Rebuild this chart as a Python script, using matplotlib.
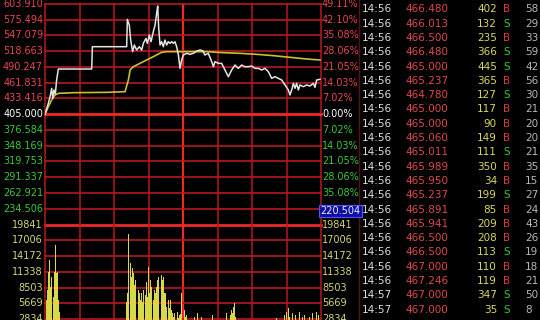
import matplotlib
matplotlib.use('Agg')
import matplotlib.pyplot as plt
import matplotlib.transforms as mtransforms
from matplotlib.lines import Line2D

# intraday price line (minutes since open, price)
price_min = [0, 2.9, 4.4, 5.8, 6.7, 7.8, 9.0, 10.1, 11.6, 40.6, 41.2, 71.0, 71.6, 73.3, 74.5,
             76.2, 77.7, 79.7, 82.0, 84.1, 85.5, 87.8, 89.0, 90.7, 92.2, 94.2, 95.7, 97.1, 98.0,
             98.8, 100.0, 101.4, 102.9, 104.3, 105.8, 107.2, 108.7, 110.1, 111.6, 113.0, 114.5,
             116.0, 117.4, 118.8, 120.3, 123.2, 126.1, 129.0, 131.9, 134.8, 137.1, 139.1, 142.0,
             145.0, 146.4, 147.8, 150.7, 153.6, 156.5, 159.4, 162.3, 165.2, 168.1, 171.0, 173.9,
             176.8, 179.7, 182.6, 185.5, 188.4, 191.3, 194.2, 197.1, 200.0, 202.9, 205.8, 208.7,
             211.6, 213.0, 214.5, 216.0, 217.4, 218.8, 220.3, 221.7, 224.6, 227.5, 230.4, 233.3,
             234.8, 236.2, 239.1]
price_val = [405.0, 424.7, 436.7, 451.8, 433.7, 448.8, 441.5, 466.8, 486.6, 486.6, 526.9, 526.9,
             576.2, 566.0, 538.9, 517.9, 529.9, 520.9, 526.9, 520.9, 532.9, 541.9, 532.9, 548.0,
             535.9, 554.0, 566.0, 587.1, 600.3, 563.0, 529.9, 535.9, 526.9, 538.9, 529.9, 535.9,
             532.9, 535.9, 532.9, 535.9, 526.9, 511.9, 487.8, 502.9, 511.9, 514.9, 513.1, 514.9,
             519.1, 520.9, 519.7, 511.9, 514.9, 499.9, 490.8, 499.9, 496.8, 496.8, 484.8, 472.8,
             484.8, 493.8, 487.8, 493.8, 490.8, 490.8, 492.0, 487.8, 487.8, 484.8, 487.8, 481.8,
             469.8, 472.8, 469.8, 466.8, 457.8, 448.8, 439.7, 448.8, 460.8, 451.8, 460.8, 448.8,
             457.8, 454.8, 457.8, 456.0, 460.8, 453.6, 466.8, 468.0]

# average price line
avg_min = [0, 2.9, 5.8, 8.7, 11.6, 24.6, 53.6, 69.6, 71.0, 72.5, 74.0, 76.8, 79.7, 82.6, 88.4,
           94.2, 98.6, 101.4, 105.8, 111.6, 140.6, 155.1, 169.6, 184.1, 198.6, 213.0, 227.5, 239.1]
avg_val = [405.0, 418.7, 430.7, 439.7, 442.7, 443.9, 444.5, 445.7, 456.0, 466.8, 484.8, 490.8,
           493.8, 496.8, 502.9, 508.9, 513.7, 516.7, 517.9, 517.9, 517.9, 516.1, 514.9, 513.1,
           510.7, 507.7, 504.7, 502.9]

# volume bars (minute, volume)
vol_min = list(range(0, 14)) + list(range(71, 124)) + [130, 133, 136, 146, 158, 160, 161, 162,
           163, 164, 165, 166, 201, 208, 210, 212, 213, 215, 218, 221, 224, 226, 230, 233, 236, 238]
vol_val = [7150, 6250, 8050, 11350, 13450, 8650, 10450, 6850, 11350, 16150, 11050, 11350, 6250, 4150,
           5950, 7450, 18100, 12850, 10450, 11950, 11050, 8950, 9850, 8650, 8050, 7450, 6250, 7450,
           5950, 8050, 7150, 9550, 6850, 12250, 7450, 9850, 8650, 6250, 8050, 7450, 8650, 9850,
           10450, 11050, 10750, 9850, 10450, 7450, 7450, 5050, 6250, 4750, 6250, 4450, 3850, 3250,
           3850, 2650, 4150, 3000, 3550, 3700, 7450, 6250, 4450, 3250, 3550,
           3250, 3850, 3250, 3550, 3850, 4750, 3550, 4450, 3850, 5050, 5650, 3250,
           3000, 3550, 4150, 4750, 3250, 3850, 3550, 4150, 3250, 3550, 3250, 3850, 4150, 3550]

price_ticks = ['603.910', '575.494', '547.079', '518.663', '490.247', '461.831', '433.416',
               '405.000', '376.584', '348.169', '319.753', '291.337', '262.921', '234.506']
pct_ticks = ['49.11%', '42.10%', '35.08%', '28.06%', '21.05%', '14.03%', '7.02%',
             '0.00%', '7.02%', '14.03%', '21.05%', '28.06%', '35.08%']
vol_ticks = ['19841', '17006', '14172', '11338', '8503', '5669', '2834']
vol_levels = [19841, 17006, 14172, 11338, 8503, 5669, 2834]
cursor_label = '220.504'

# tick-by-tick list
trade_time = ['14:56'] * 20 + ['14:57'] * 2
trade_price = ['466.480', '466.013', '466.500', '466.480', '465.000', '465.237', '464.780',
               '465.000', '465.000', '465.060', '465.011', '465.989', '465.950', '465.237',
               '465.891', '465.941', '466.500', '466.500', '467.000', '467.246', '467.000', '467.000']
trade_vol = [402, 132, 235, 366, 445, 365, 127, 117, 90, 149, 111, 350, 34, 199, 85, 209, 208,
             113, 110, 119, 347, 35]
trade_side = ['B', 'S', 'B', 'S', 'S', 'B', 'S', 'B', 'B', 'B', 'S', 'B', 'B', 'S', 'B', 'B', 'B',
              'S', 'B', 'B', 'S', 'S']
trade_num = [58, 29, 33, 59, 42, 56, 30, 21, 20, 20, 21, 35, 15, 27, 24, 43, 26, 19, 18, 21, 50, 8]

W, H = 540, 320
GRID = '#b81820'
BRIGHT = '#f02828'
RED = '#e8484c'
GREEN = '#3cc83c'
YEL = '#d4d47c'

fig = plt.figure(figsize=(5.4, 3.2), dpi=100, facecolor='black')

ax_p = fig.add_axes([45 / W, 1 - 224.5 / H, 276 / W, 220.5 / H])
ax_v = fig.add_axes([45 / W, 0, 276 / W, 95.5 / H])
base = 405.0
step = float(price_ticks[0]) - float(price_ticks[1])
ax_p.set_ylim(base - 7 * step, float(price_ticks[0]))
ax_v.set_ylim(vol_levels[0] - 6.063 * (vol_levels[0] / 7), vol_levels[0])
for ax in (ax_p, ax_v):
    ax.set_xlim(0, 240)
    ax.set_facecolor('black')
    ax.axis('off')
    for t in range(0, 241, 30):
        ax.axvline(t, color=BRIGHT if t == 120 else GRID, lw=1.6 if t == 120 else 1.1,
                   clip_on=False, zorder=1)

for lab in price_ticks:
    v = float(lab)
    ax_p.axhline(v, color=BRIGHT if v == base else GRID, lw=2 if v == base else 1.2,
                 clip_on=False, zorder=1)
ax_p.axhline(base - 7 * step, color=BRIGHT, lw=2, clip_on=False, zorder=1)
for v in vol_levels[1:]:
    ax_v.axhline(v, color=GRID, lw=1.2, clip_on=False, zorder=1)

ax_p.plot(avg_min, avg_val, color='#c8c030', lw=1.2, zorder=3)
ax_p.plot(price_min, price_val, color='#e4e4e4', lw=1.1, zorder=4)
ax_v.bar(vol_min, vol_val, width=0.85, color='#d8d848', lw=0, zorder=3)

# axis labels
tl = mtransforms.blended_transform_factory(fig.transFigure, ax_p.transData)
for i, lab in enumerate(price_ticks):
    c = RED if i < 7 else ('white' if i == 7 else GREEN)
    fig.text(43 / W, float(lab), lab, transform=tl, ha='right', va='center', color=c, fontsize=7)
for i, lab in enumerate(pct_ticks):
    c = RED if i < 7 else ('white' if i == 7 else GREEN)
    fig.text(322 / W, float(price_ticks[i]), lab, transform=tl, ha='left', va='center',
             color=c, fontsize=7)
tv = mtransforms.blended_transform_factory(fig.transFigure, ax_v.transData)
for lab, v in zip(vol_ticks, vol_levels):
    fig.text(43 / W, v, lab, transform=tv, ha='right', va='center', color=YEL, fontsize=7)
    fig.text(322 / W, v, lab, transform=tv, ha='left', va='center', color=YEL, fontsize=7)

fig.text(340.5 / W, 1 - 211 / H, cursor_label, ha='center', va='center', color='#e8e8ff',
         fontsize=7, bbox=dict(boxstyle='square,pad=0.15', fc='#1010a0', ec='#5050ff', lw=0.8))

fig.add_artist(Line2D([359 / W, 359 / W], [0, 1], color='#5a1014', lw=1))

# trade list
for i in range(len(trade_time)):
    y = 1 - (9.3 + 14.3 * i) / H
    fig.text(362 / W, y, trade_time[i], ha='left', va='center', color='#e0e0e0', fontsize=7.5)
    fig.text(405 / W, y, trade_price[i], ha='left', va='center', color='#e04848', fontsize=7.5)
    fig.text(497 / W, y, str(trade_vol[i]), ha='right', va='center', color='#d8d860', fontsize=7.5)
    fig.text(507 / W, y, trade_side[i], ha='center', va='center',
             color='#e03838' if trade_side[i] == 'B' else '#30c830', fontsize=7.5)
    fig.text(525 / W, y, str(trade_num[i]), ha='left', va='center', color='#b8b8b8', fontsize=7.5)

fig.savefig('out.png', dpi=100, facecolor='black')
